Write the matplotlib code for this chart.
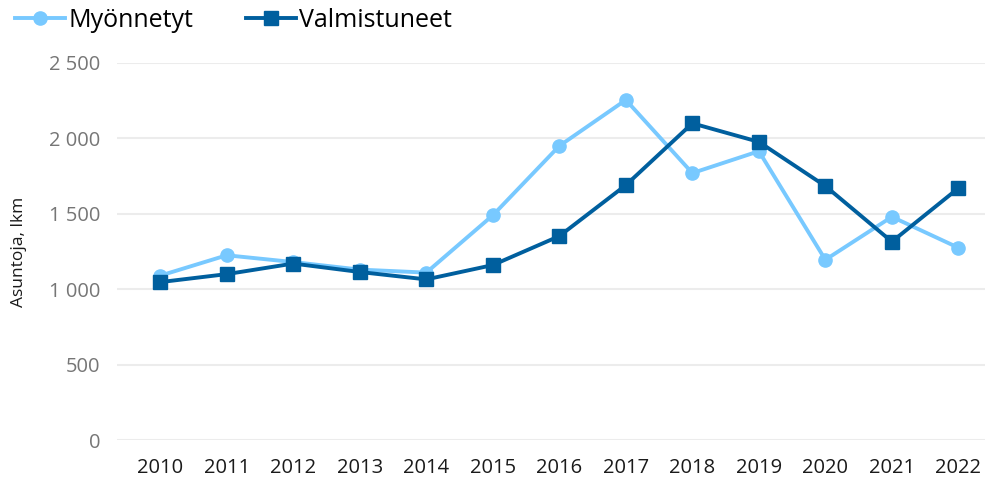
import matplotlib
matplotlib.use("Agg")
import matplotlib.pyplot as plt
from matplotlib.ticker import FuncFormatter

plt.rcParams['font.family'] = ['Open Sans', 'DejaVu Sans']

years = ["2010", "2011", "2012", "2013", "2014", "2015", "2016",
         "2017", "2018", "2019", "2020", "2021", "2022"]
myonnetyt = [1090, 1225, 1180, 1130, 1110, 1490, 1950,
             2255, 1770, 1915, 1195, 1480, 1275]
valmistuneet = [1047, 1100, 1170, 1114, 1065, 1160, 1352,
                1690, 2100, 1977, 1684, 1315, 1670]

LIGHT = "#78C9FF"
DARK = "#005F9E"

fig = plt.figure(figsize=(9.87, 4.88), dpi=100)
ax = fig.add_axes([117 / 987, 48 / 488, 868 / 987, 377 / 488])

x = list(range(len(years)))
ax.plot(x, myonnetyt, color=LIGHT, lw=2.8, marker="o", ms=9.5,
        label="Myönnetyt", solid_joinstyle="round")
ax.plot(x, valmistuneet, color=DARK, lw=2.8, marker="s", ms=9.5,
        label="Valmistuneet", solid_joinstyle="round")

ax.set_xlim(-0.65, 12.4)
ax.set_ylim(0, 2500)
ax.set_yticks(range(0, 2501, 500))
ax.yaxis.set_major_formatter(FuncFormatter(lambda v, p: "{:,}".format(int(v)).replace(",", " ")))
ax.set_xticks(x)
ax.set_xticklabels(years)

ax.grid(axis="y", color="#ECECEC", lw=1.5)
ax.set_axisbelow(True)
for s in ax.spines.values():
    s.set_visible(False)
ax.tick_params(axis="y", length=0, pad=12, labelsize=14.5, labelcolor="#767676")
ax.tick_params(axis="x", length=0, pad=13, labelsize=14.5, labelcolor="#1a1a1a")
ax.set_ylabel("Asuntoja, lkm", fontsize=12.5, color="#1a1a1a", labelpad=16)

fig.legend(loc="upper left", bbox_to_anchor=(-0.003, 1.02), ncol=2, frameon=False,
           fontsize=18, handlelength=2.0, handletextpad=0.15, columnspacing=2.1,
           borderaxespad=0.3)

fig.savefig("out.png", dpi=100)
